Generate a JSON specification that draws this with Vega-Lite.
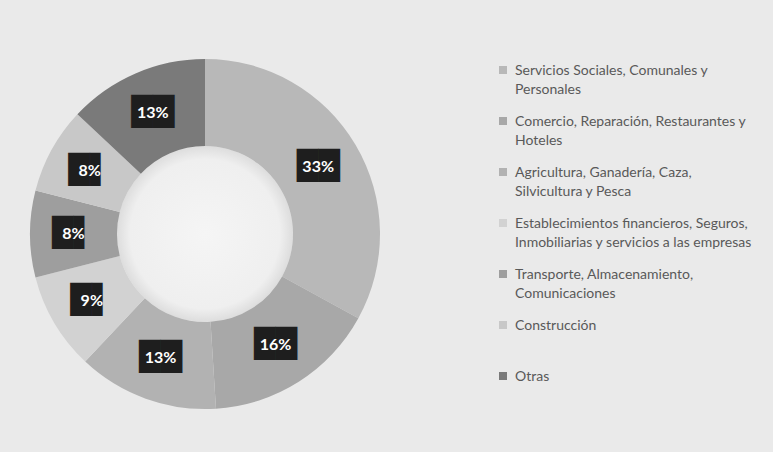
{
  "$schema": "https://vega.github.io/schema/vega-lite/v6.json",
  "autosize": "none",
  "width": 350,
  "height": 350,
  "padding": {"left": 30, "top": 59, "right": 393, "bottom": 43},
  "background": "#eaeaea",
  "config": {"view": {"stroke": null}},
  "data": {"values": [
    {"categoria": "Servicios Sociales, Comunales y Personales", "pct": 33, "etiqueta": "33%", "orden": 1},
    {"categoria": "Comercio, Reparación, Restaurantes y Hoteles", "pct": 16, "etiqueta": "16%", "orden": 2},
    {"categoria": "Agricultura, Ganadería, Caza, Silvicultura y Pesca", "pct": 13, "etiqueta": "13%", "orden": 3},
    {"categoria": "Establecimientos financieros, Seguros, Inmobiliarias y servicios a las empresas", "pct": 9, "etiqueta": "9%", "orden": 4},
    {"categoria": "Transporte, Almacenamiento, Comunicaciones", "pct": 8, "etiqueta": "8%", "orden": 5},
    {"categoria": "Construcción", "pct": 8, "etiqueta": "8%", "orden": 6},
    {"categoria": "Otras", "pct": 13, "etiqueta": "13%", "orden": 7}
  ]},
  "layer": [
    {
      "data": {"values": [{"hueco": 1}]},
      "mark": {"type": "arc", "radius": 88, "color": {"gradient": "radial", "stops": [{"offset": 0, "color": "#f5f5f5"}, {"offset": 0.85, "color": "#efefef"}, {"offset": 1, "color": "#dddddd"}]}},
      "encoding": {}
    },
    {
      "mark": {"type": "arc", "radius": 175, "radius2": 88},
      "encoding": {
        "theta": {"field": "pct", "type": "quantitative", "stack": true},
        "order": {"field": "orden", "type": "quantitative"},
        "color": {
          "field": "categoria", "type": "nominal",
          "scale": {
            "domain": ["Servicios Sociales, Comunales y Personales", "Comercio, Reparación, Restaurantes y Hoteles", "Agricultura, Ganadería, Caza, Silvicultura y Pesca", "Establecimientos financieros, Seguros, Inmobiliarias y servicios a las empresas", "Transporte, Almacenamiento, Comunicaciones", "Construcción", "Otras"],
            "range": ["#b8b8b8", "#a8a8a8", "#b2b2b2", "#d2d2d2", "#9e9e9e", "#c8c8c8", "#7a7a7a"]
          },
          "legend": {
            "title": null,
            "orient": "none",
            "legendX": 466,
            "legendY": 4,
            "padding": 0,
            "symbolType": "square",
            "symbolSize": 64,
            "symbolStrokeWidth": 0,
            "labelFont": "Lato",
            "labelFontSize": 14,
            "labelColor": "#595959",
            "labelOffset": 5,
            "labelLimit": 300,
            "labelBaseline": "top",
            "rowPadding": 17,
            "labelExpr": "datum.label == 'Servicios Sociales, Comunales y Personales' ? ['Servicios Sociales, Comunales y','Personales'] : datum.label == 'Comercio, Reparación, Restaurantes y Hoteles' ? ['Comercio, Reparación, Restaurantes y','Hoteles'] : datum.label == 'Agricultura, Ganadería, Caza, Silvicultura y Pesca' ? ['Agricultura, Ganadería, Caza,','Silvicultura y Pesca'] : datum.label == 'Establecimientos financieros, Seguros, Inmobiliarias y servicios a las empresas' ? ['Establecimientos financieros, Seguros,','Inmobiliarias y servicios a las empresas'] : datum.label == 'Transporte, Almacenamiento, Comunicaciones' ? ['Transporte, Almacenamiento,','Comunicaciones'] : [datum.label, '']",
            "encode": {"labels": {"update": {"lineHeight": {"value": 19}, "dy": {"value": -6}}}}
          }
        }
      }
    },
    {
      "mark": {"type": "text", "radius": 131.5, "font": "DejaVu Sans", "fontSize": 28, "color": "#1e1e1e", "baseline": "middle"},
      "encoding": {
        "theta": {"field": "pct", "type": "quantitative", "stack": true},
        "order": {"field": "orden", "type": "quantitative"},
        "text": {"condition": {"test": "datum.pct < 10", "value": "█▌"}, "value": "██"}
      }
    },
    {
      "mark": {"type": "text", "radius": 131.5, "font": "Lato", "fontWeight": "bold", "fontSize": 16, "color": "#ffffff", "baseline": "middle"},
      "encoding": {
        "theta": {"field": "pct", "type": "quantitative", "stack": true},
        "order": {"field": "orden", "type": "quantitative"},
        "text": {"field": "etiqueta", "type": "nominal"}
      }
    }
  ]
}
